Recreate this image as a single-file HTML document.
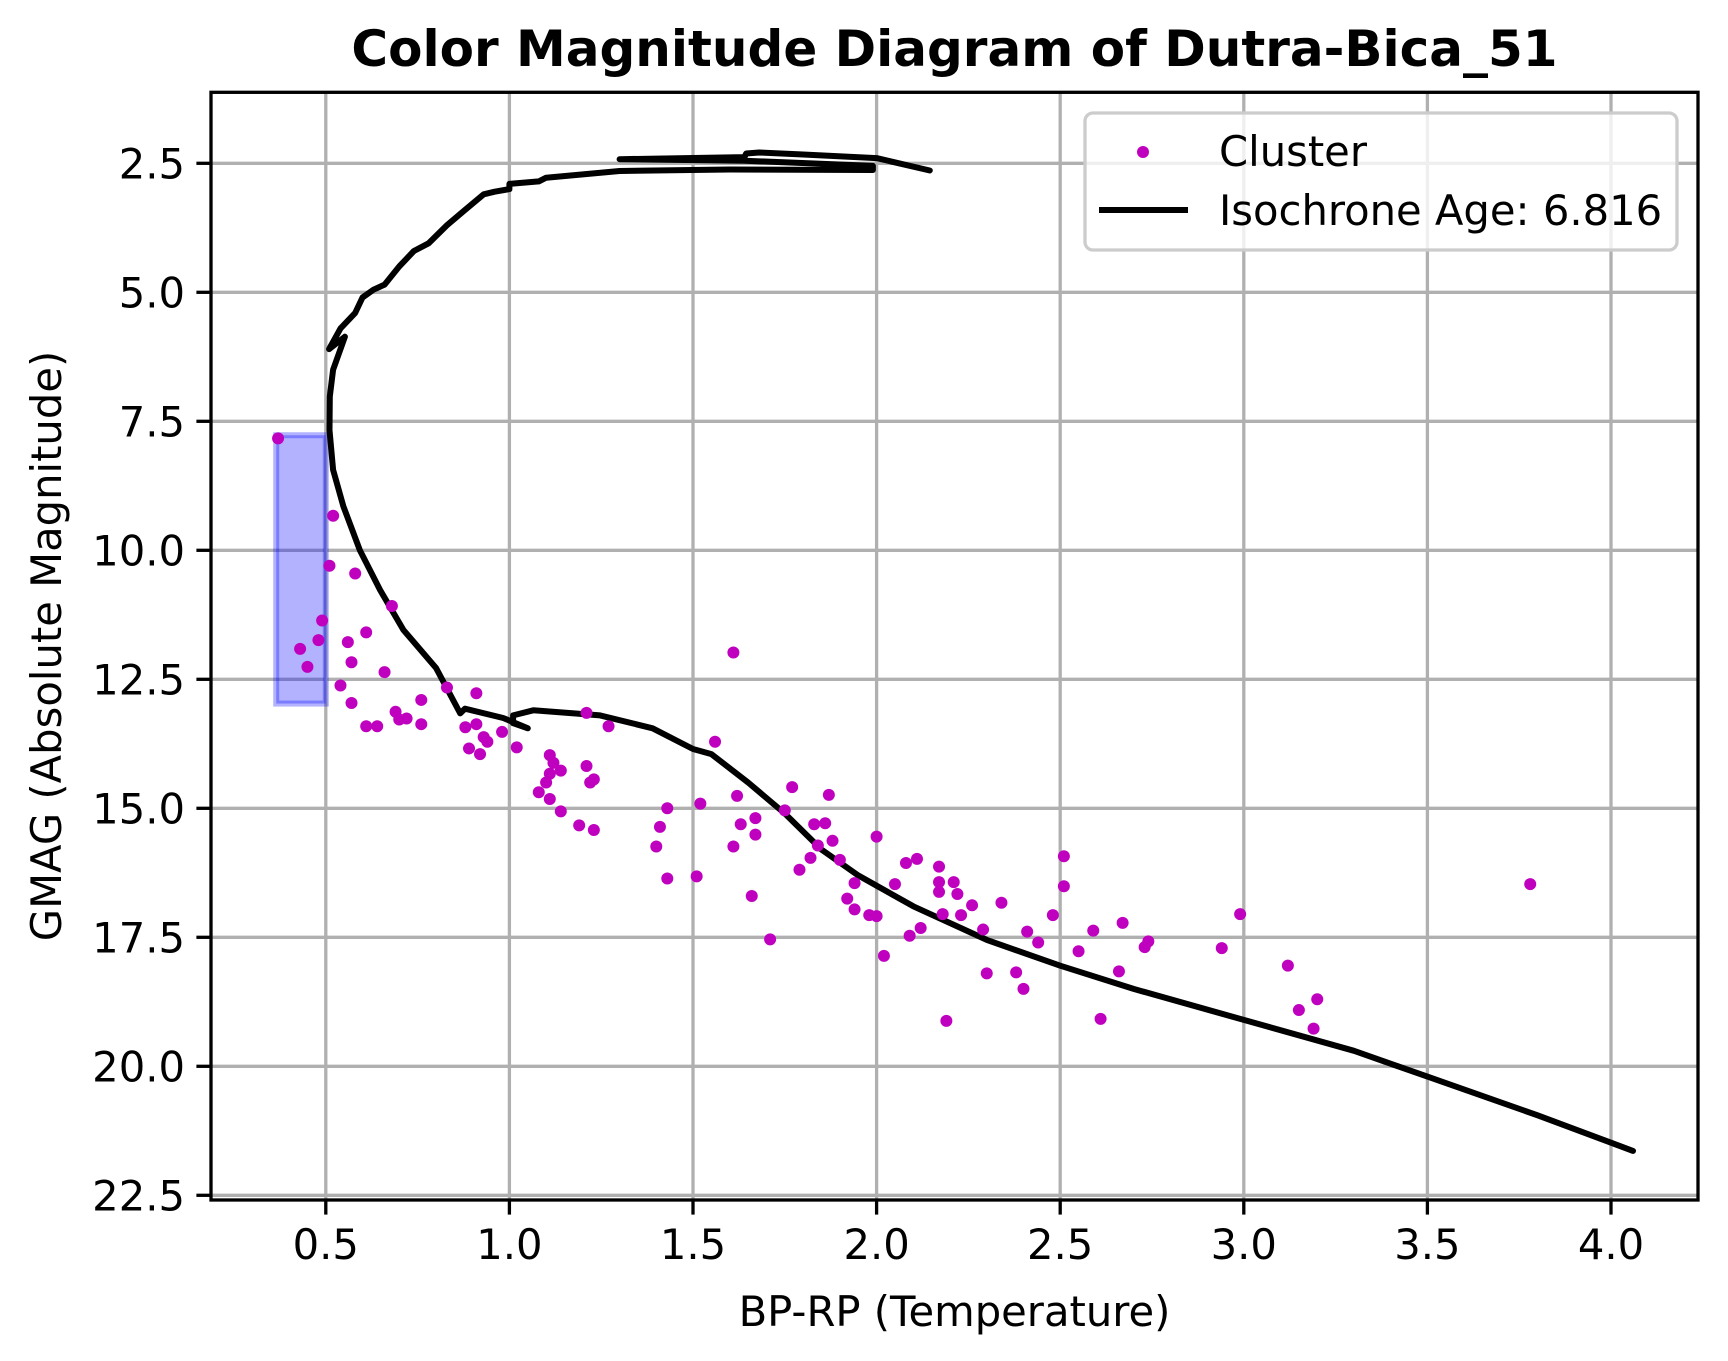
<!DOCTYPE html>
<html><head><meta charset="utf-8">
<style>
html,body{margin:0;padding:0;background:#fff;}
svg{display:block;font-family:"DejaVu Sans","Liberation Sans",sans-serif;}
</style></head>
<body>
<svg id="chart" width="1728" height="1361" viewBox="0 0 1728 1361" xmlns="http://www.w3.org/2000/svg">
  <rect x="0" y="0" width="1728" height="1361" fill="#fff"/>
  <g id="grid"></g>
  <g id="rect-layer"></g>
  <g id="iso-layer"></g>
  <g id="pts-layer"></g>
  <rect x="211" y="92.3" width="1487" height="1107.7" fill="none" stroke="#000" stroke-width="3.3"/>
  <g id="ticks"></g>
  <text x="954.5" y="66" text-anchor="middle" font-size="50" font-weight="bold">Color Magnitude Diagram of Dutra-Bica_51</text>
  <text x="954.5" y="1326" text-anchor="middle" font-size="41.7">BP-RP (Temperature)</text>
  <text x="61" y="646" text-anchor="middle" font-size="41.7" transform="rotate(-90 61 646)">GMAG (Absolute Magnitude)</text>
  <g>
    <rect x="1085" y="113" width="592" height="137" rx="8" fill="#fff" fill-opacity="0.8" stroke="#cccccc" stroke-width="3.3"/>
    <circle cx="1143" cy="152" r="6" fill="#bf00bf"/>
    <text x="1219" y="166" font-size="41.7">Cluster</text>
    <line x1="1099" y1="210" x2="1188" y2="210" stroke="#000" stroke-width="6"/>
    <text x="1219" y="225" font-size="41.7">Isochrone Age: 6.816</text>
  </g>
</svg>
<script>
const xTicks = [0.5, 1.0, 1.5, 2.0, 2.5, 3.0, 3.5, 4.0];
const xTickLabels = ["0.5","1.0","1.5","2.0","2.5","3.0","3.5","4.0"];
const yTicks = [2.5, 5.0, 7.5, 10.0, 12.5, 15.0, 17.5, 20.0, 22.5];
const yTickLabels = ["2.5","5.0","7.5","10.0","12.5","15.0","17.5","20.0","22.5"];
const clusterBP = [0.37,0.52,0.51,0.58,0.49,0.43,0.48,0.45,0.56,0.61,0.68,0.57,0.66,0.54,0.57,0.61,0.64,0.69,0.70,0.72,0.76,0.76,0.83,0.88,0.91,0.91,0.89,0.92,0.93,0.94,0.98,1.02,1.11,1.12,1.14,1.11,1.10,1.08,1.11,1.14,1.19,1.23,1.21,1.22,1.23,1.21,1.27,1.41,1.40,1.43,1.43,1.51,1.52,1.56,1.61,1.62,1.61,1.63,1.67,1.67,1.66,1.71,1.75,1.77,1.87,1.83,1.86,1.84,1.88,1.82,1.90,1.79,1.94,1.92,1.94,1.98,2.00,2.00,2.05,2.08,2.11,2.09,2.12,2.02,2.17,2.17,2.21,2.17,2.22,2.18,2.26,2.23,2.29,2.30,2.19,2.34,2.38,2.40,2.41,2.44,2.48,2.51,2.51,2.55,2.59,2.67,2.66,2.61,2.73,2.74,2.94,2.99,3.12,3.15,3.20,3.19,3.78];
const clusterG = [7.83,9.33,10.3,10.45,11.36,11.91,11.74,12.26,11.78,11.59,11.08,12.17,12.36,12.62,12.96,13.41,13.41,13.13,13.28,13.26,12.9,13.37,12.66,13.43,12.77,13.37,13.84,13.95,13.62,13.71,13.52,13.82,13.97,14.12,14.27,14.33,14.5,14.69,14.82,15.06,15.33,15.42,14.18,14.5,14.44,13.15,13.41,15.36,15.74,15.0,16.36,16.32,14.91,13.71,11.98,14.76,15.74,15.31,15.19,15.51,16.7,17.54,15.04,14.59,14.74,15.31,15.29,15.72,15.63,15.96,16.0,16.19,16.45,16.75,16.96,17.07,17.09,15.55,16.47,16.06,15.98,17.47,17.32,17.86,16.13,16.43,16.43,16.62,16.66,17.05,16.88,17.07,17.35,18.2,19.12,16.83,18.18,18.5,17.39,17.6,17.07,15.93,16.51,17.77,17.37,17.22,18.16,19.08,17.69,17.58,17.71,17.05,18.05,18.91,18.7,19.27,16.47];
const isoBP = [4.06,3.8,3.5,3.3,3.0,2.7,2.5,2.3,2.1,1.95,1.85,1.75,1.65,1.55,1.5,1.39,1.247,1.065,1.01,1.01,1.05,0.983,0.879,0.866,0.80,0.711,0.648,0.593,0.548,0.52,0.51,0.511,0.52,0.552,0.509,0.54,0.58,0.60,0.63,0.66,0.70,0.74,0.78,0.83,0.88,0.93,0.96,1.0,1.0,1.08,1.1,1.3,1.6,1.99,1.99,1.64,1.30,1.64,1.645,1.68,1.8,2.0,2.145];
const isoG = [21.64,20.95,20.2,19.7,19.1,18.5,18.05,17.55,16.9,16.3,15.8,15.1,14.5,13.95,13.85,13.45,13.2,13.1,13.2,13.35,13.45,13.25,13.07,13.16,12.28,11.54,10.77,10.0,9.15,8.44,7.67,7.02,6.5,5.86,6.1,5.7,5.4,5.1,4.95,4.85,4.5,4.2,4.05,3.7,3.4,3.1,3.05,3.0,2.9,2.85,2.78,2.65,2.62,2.63,2.55,2.45,2.42,2.38,2.31,2.29,2.33,2.4,2.64];
const highlightBP = [0.365, 0.5];
const highlightG = [7.77, 12.97];

const NS = "http://www.w3.org/2000/svg";
const AX = {l:211, r:1698, t:92.3, b:1200};
function sx(v){ return 142.2 + v*367.2; }
function sy(v){ return 163.3 + (v-2.5)*51.6; }
function mk(tag, attrs, parent){
  const e = document.createElementNS(NS, tag);
  for (const k in attrs) e.setAttribute(k, attrs[k]);
  parent.appendChild(e);
  return e;
}
const grid = document.getElementById('grid');
const ticks = document.getElementById('ticks');
xTicks.forEach((v,i)=>{
  const x = sx(v);
  const g = mk('line',{x1:x,y1:AX.t,x2:x,y2:AX.b,stroke:'#b0b0b0','stroke-width':3.3},grid);
  
  
  const t = mk('line',{x1:x,y1:AX.b,x2:x,y2:AX.b+14.6,stroke:'#000','stroke-width':3.3},ticks);
  
  
  const l = mk('text',{x:x,y:AX.b+59,'text-anchor':'middle','font-size':41.7},ticks);
  l.textContent = xTickLabels[i];
  
  
});
yTicks.forEach((v,i)=>{
  const y = sy(v);
  const g = mk('line',{x1:AX.l,y1:y,x2:AX.r,y2:y,stroke:'#b0b0b0','stroke-width':3.3},grid);
  
  
  const t = mk('line',{x1:AX.l-14.6,y1:y,x2:AX.l,y2:y,stroke:'#000','stroke-width':3.3},ticks);
  
  
  const l = mk('text',{x:AX.l-26,y:y+15,'text-anchor':'end','font-size':41.7},ticks);
  l.textContent = yTickLabels[i];
  
  
});
const rx0 = sx(highlightBP[0]), rx1 = sx(highlightBP[1]);
const ry0 = sy(highlightG[0]), ry1 = sy(highlightG[1]);
const hr = mk('rect',{x:rx0,y:ry0,width:rx1-rx0,height:ry1-ry0,fill:'#0000ff','fill-opacity':0.3,stroke:'#0000ff','stroke-opacity':0.3,'stroke-width':6},document.getElementById('rect-layer'));


let d = '';
isoBP.forEach((v,i)=>{ d += (i?'L':'M') + sx(v).toFixed(1) + ' ' + sy(isoG[i]).toFixed(1) + ' '; });
const iso = mk('path',{d:d,fill:'none',stroke:'#000','stroke-width':6,'stroke-linejoin':'round','stroke-linecap':'round'},document.getElementById('iso-layer'));


const pl = document.getElementById('pts-layer');
clusterBP.forEach((v,i)=>{
  const c = mk('circle',{cx:sx(v),cy:sy(clusterG[i]),r:6,fill:'#bf00bf'},pl);
  
  
});
</script>
</body></html>
